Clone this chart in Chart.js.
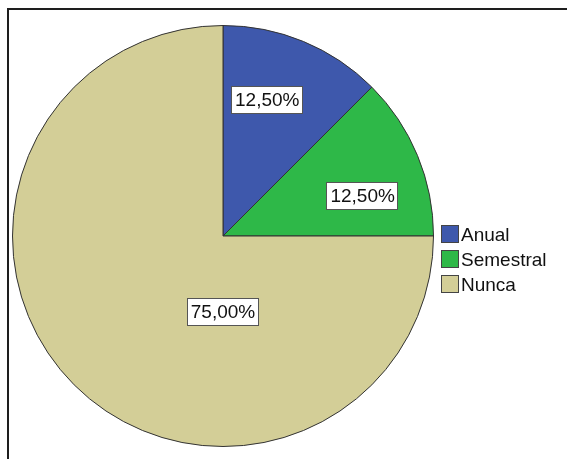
<!DOCTYPE html>
<html>
<head>
<meta charset="utf-8">
<script src="https://cdn.jsdelivr.net/npm/chart.js@4/dist/chart.umd.min.js"></script>
<style>
  html, body { margin: 0; padding: 0; background: #fff; }
  canvas { display: block; }
</style>
</head>
<body>
<canvas id="pie" width="567" height="459"></canvas>
<script>
// frequency of the answer, in percent
var categories = ["Anual", "Semestral", "Nunca"];
var percents = [12.5, 12.5, 75.0];
var sliceColors = ['#3e58ac', '#2eb848', '#d3ce97'];

// where each value box sits: angle clockwise from 12 o'clock, distance as a fraction of the radius
var labelPlacement = [
    {angle: 18, dist: 0.68},
    {angle: 74, dist: 0.69},
    {angle: 180, dist: 0.36}
];

var FONT = '19px "Liberation Sans", Arial, sans-serif';

function formatPercent(v)
{
    return v.toFixed(2).replace('.', ',') + '%';
}

// frame round the plot (left and top edges only)
var framePlugin = {
    id: 'frame',
    beforeDraw: function(chart) {
        var ctx = chart.ctx;
        ctx.save();
        ctx.fillStyle = '#fff';
        ctx.fillRect(0, 0, chart.width, chart.height);
        ctx.fillStyle = '#1e1e1e';
        ctx.fillRect(7, 8, 2, chart.height - 8);
        ctx.fillRect(7, 8, chart.width - 7, 2);
        ctx.restore();
    }
};

// boxed value labels on the slices
var valueLabelPlugin = {
    id: 'valueLabels',
    afterDatasetsDraw: function(chart) {
        var ctx = chart.ctx;
        var meta = chart.getDatasetMeta(0);
        ctx.save();
        ctx.font = FONT;
        ctx.textAlign = 'center';
        ctx.textBaseline = 'middle';
        meta.data.forEach(function(arc, i) {
            var p = labelPlacement[i];
            var a = p.angle * Math.PI / 180;
            var r = arc.outerRadius * p.dist;
            var cx = arc.x + r * Math.sin(a);
            var cy = arc.y - r * Math.cos(a);
            var text = formatPercent(chart.data.datasets[0].data[i]);
            var w = ctx.measureText(text).width + 8;
            var h = 28;
            ctx.fillStyle = '#fff';
            ctx.fillRect(Math.round(cx - w / 2), Math.round(cy - h / 2), Math.round(w), h);
            ctx.strokeStyle = '#555';
            ctx.lineWidth = 1;
            ctx.strokeRect(Math.round(cx - w / 2) + 0.5, Math.round(cy - h / 2) + 0.5, Math.round(w) - 1, h - 1);
            ctx.fillStyle = '#111';
            ctx.fillText(text, cx, cy + 1);
        });
        ctx.restore();
    }
};

// legend to the right of the pie
var sideLegendPlugin = {
    id: 'sideLegend',
    afterDraw: function(chart) {
        var ctx = chart.ctx;
        var area = chart.chartArea;
        var x = area.right + 7;
        var y = 225;
        ctx.save();
        ctx.font = FONT;
        ctx.textAlign = 'left';
        ctx.textBaseline = 'middle';
        chart.data.labels.forEach(function(label, i) {
            var top = y + i * 25;
            ctx.fillStyle = sliceColors[i];
            ctx.fillRect(x, top, 18, 18);
            ctx.strokeStyle = '#444';
            ctx.lineWidth = 1;
            ctx.strokeRect(x + 0.5, top + 0.5, 17, 17);
            ctx.fillStyle = '#111';
            ctx.fillText(label, x + 20, top + 11);
        });
        ctx.restore();
    }
};

var chart = new Chart(document.getElementById('pie'), {
    type: 'pie',
    data: {
        labels: categories,
        datasets: [{
            data: percents,
            backgroundColor: sliceColors,
            borderColor: '#333',
            borderWidth: 1
        }]
    },
    options: {
        responsive: false,
        devicePixelRatio: 1,
        animation: false,
        layout: {padding: {left: 12, right: 133, top: 25, bottom: 12}},
        plugins: {
            legend: {display: false},
            tooltip: {enabled: false}
        }
    },
    plugins: [framePlugin, valueLabelPlugin, sideLegendPlugin]
});
</script>
</body>
</html>
